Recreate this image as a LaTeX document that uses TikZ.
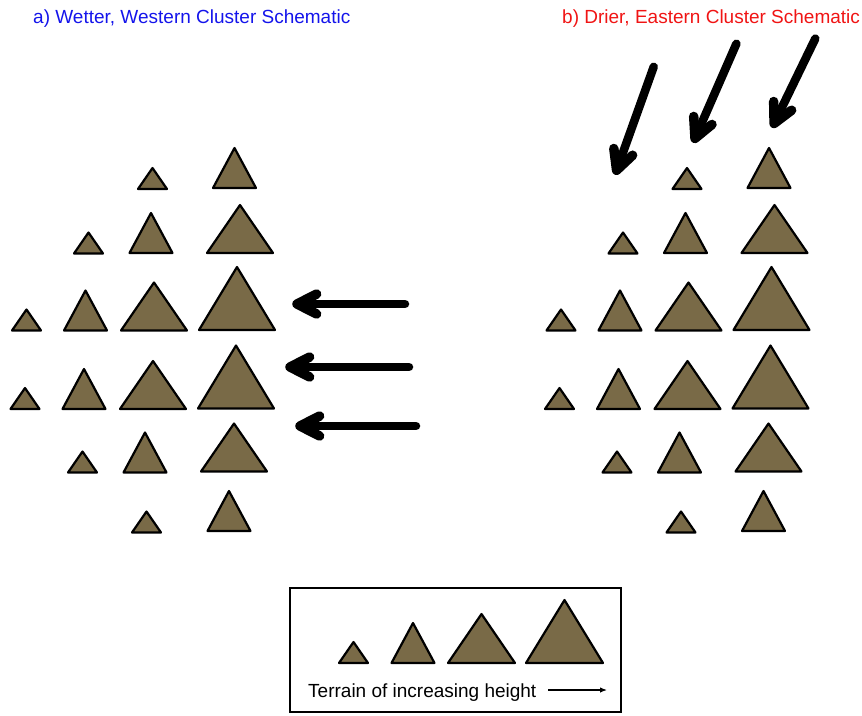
\documentclass[tikz,border=0pt]{standalone}
\usepackage{fontspec}
\setmainfont{Liberation Sans}
\usetikzlibrary{arrows.meta, calc}
\definecolor{terrain}{RGB}{121,106,71}
\definecolor{wetblue}{RGB}{20,20,235}
\definecolor{dryred}{RGB}{240,20,20}
\begin{document}
\begin{tikzpicture}[x=1pt, y=-1pt,
    mound/.style={draw=black, fill=terrain, line width=2.2pt, line join=round},
    wind/.style={line width=8.5pt, line cap=round, line join=round},
    barb/.style={wind, line width=9.5pt},
    label/.style={inner sep=0pt, anchor=base west, font=\fontsize{19}{22}\selectfont}]
    \useasboundingbox (0,0) rectangle (862,715);

    % Titles
    \node[label, wetblue] (titleWest) at (33,23.5) {a) Wetter, Western Cluster Schematic};
    \node[label, dryred] (titleEast) at (562,23.5) {b) Drier, Eastern Cluster Schematic};

    % Both clusters of terrain (center x / base y / width / height)
    \foreach \shift in {0, 534.5}
    {
        \foreach \x/\y/\w/\h in {152.5/189/29/21, 234.5/188/43/40,
            88.5/253.5/29/21, 151/253/43/40, 240/253/66/48,
            26.5/330.5/29/21, 85.5/330.5/43/40, 154/330.5/66/48, 237/330/76/63,
            25/409/29/21, 84/409/43/40, 153/409/66/48, 236/408.5/76/63,
            82.5/472.5/29/21, 145/472.5/43/40, 234/471.5/66/48,
            146.5/532.5/29/21, 229/531/43/40}
        {
            \draw[mound] (\shift+\x-\w/2,\y) -- (\shift+\x,\y-\h) -- (\shift+\x+\w/2,\y) -- cycle;
        }
    }

    % Flow arrows: westerly onto a), northeasterly onto b) (tail x/y / tip x/y)
    \foreach \tx/\ty/\hx/\hy in {405/304/297/304, 409/367/290/367, 416/426/300/426,
        653.7/66.8/616.6/170.3, 736.4/43.7/695/138.4, 815.3/38.6/774.1/123.5}
    {
        \coordinate (tail) at (\tx,\ty);
        \coordinate (tip) at (\hx,\hy);
        \draw[wind] (tail) -- (tip);
        \draw[barb] ($(tip)!22pt!27:(tail)$) -- (tip) -- ($(tip)!22pt!-27:(tail)$);
    }

    % Legend
    \draw[line width=2.6pt] (290,588) rectangle (621,712);
    \foreach \x/\w/\h in {353.5/29/21, 413/43/40, 481.5/67/49, 564.5/77/63}
    {
        \draw[mound] (\x-\w/2,663) -- (\x,663-\h) -- (\x+\w/2,663) -- cycle;
    }
    \node[label] (legendText) at (308,697) {Terrain of increasing height};
    \draw[line width=1.2pt, -{Latex[length=7pt, width=5.5pt]}] (548,690) -- (607,690);

\end{tikzpicture}
\end{document}
